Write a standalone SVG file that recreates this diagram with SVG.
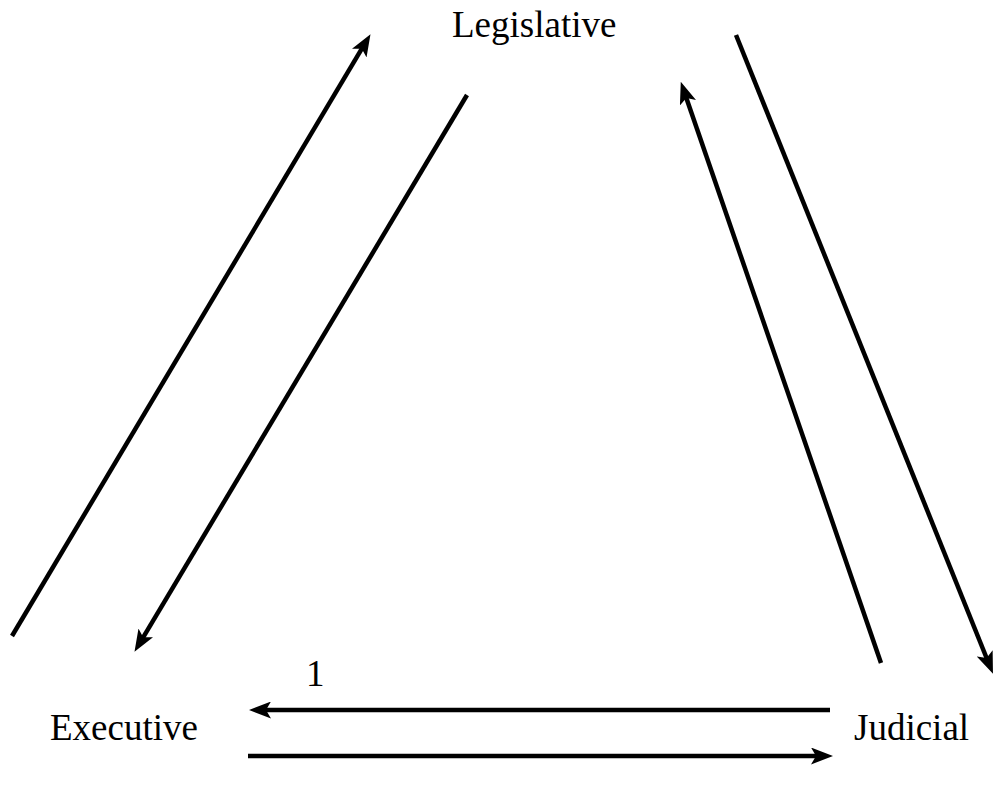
<svg xmlns="http://www.w3.org/2000/svg" width="994" height="791" viewBox="0 0 994 791">
<defs>
<style>
.lbl{font-family:"Liberation Serif","Times New Roman",serif;font-size:37px;fill:#000}
.cn{stroke:#000;stroke-width:4.5;fill:none;marker-end:url(#ah)}
</style>
<marker id="ah" viewBox="0 0 22 17" refX="6" refY="8.5" markerWidth="22" markerHeight="17" markerUnits="userSpaceOnUse" orient="auto">
<path d="M0,0 L22,8.5 L0,17 L5,8.5 Z" fill="#000"/>
</marker>
</defs>
<rect width="994" height="791" fill="#fff"/>
<g id="connectors">
<line class="cn" x1="12" y1="636" x2="362.3" y2="47.9"/>
<line class="cn" x1="467" y1="95" x2="142.7" y2="638.1"/>
<line class="cn" x1="881" y1="663" x2="686" y2="97"/>
<line class="cn" x1="736" y1="35" x2="987" y2="659"/>
<line class="cn" x1="830" y1="710" x2="265" y2="710"/>
<line class="cn" x1="248" y1="756" x2="817" y2="756"/>
</g>
<g id="legislative"><text class="lbl" x="452" y="37">Legislative</text></g>
<g id="executive"><text class="lbl" x="50" y="740">Executive</text></g>
<g id="judicial"><text class="lbl" x="854" y="740">Judicial</text></g>
<g id="label1"><text class="lbl" x="306" y="686">1</text></g>
</svg>
